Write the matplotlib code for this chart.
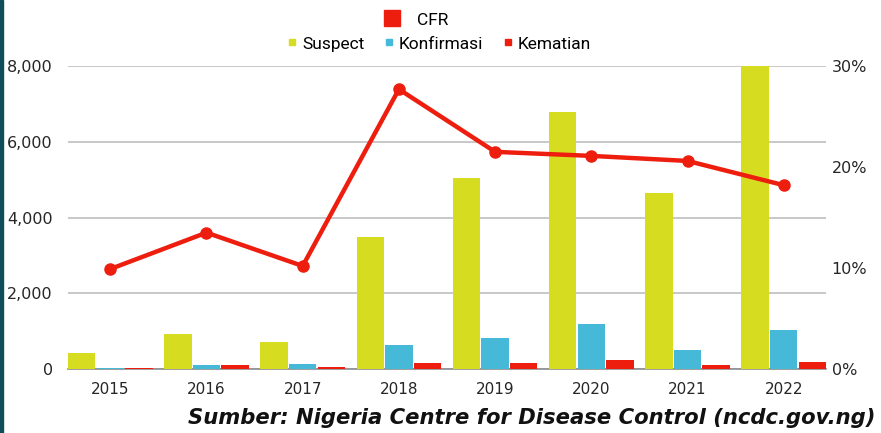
import numpy as np
import matplotlib.pyplot as plt
from matplotlib.lines import Line2D
from matplotlib.patches import Rectangle
from matplotlib.ticker import FuncFormatter

years = ["2015", "2016", "2017", "2018", "2019", "2020", "2021", "2022"]
suspect = [420, 925, 710, 3480, 5050, 6780, 4650, 7990]
konfirmasi = [20, 100, 130, 630, 830, 1190, 500, 1030]
kematian = [30, 110, 60, 165, 165, 240, 95, 185]
cfr = [9.9, 13.5, 10.2, 27.7, 21.5, 21.1, 20.6, 18.2]

c_sus = "#D6DD21"
c_konf = "#45B9D7"
c_mati = "#EE1E0F"
grid_c = "#BFBFBF"
txt_c = "#262626"

plt.rcParams['font.family'] = ['DejaVu Sans']

fig = plt.figure(figsize=(8.81, 4.33), dpi=100)
ax = fig.add_axes([68/881, 64/433, 758/881, 303/433])

x = np.arange(len(years))
w = 0.285
off = 0.297
ax.bar(x - off, suspect, w, color=c_sus, zorder=3)
ax.bar(x, konfirmasi, w, color=c_konf, zorder=3)
ax.bar(x + off, kematian, w, color=c_mati, zorder=3)

ax.set_xlim(-off - w/2, len(years) - 1 + off + w/2)
ax.set_ylim(0, 8000)
ax.set_yticks([0, 2000, 4000, 6000, 8000])
ax.yaxis.set_major_formatter(FuncFormatter(lambda v, p: f"{int(v):,}"))
ax.grid(axis="y", color=grid_c, lw=1.2, zorder=0)
ax.set_xticks(x)
ax.set_xticklabels(years)
for s in ["top", "right", "left"]:
    ax.spines[s].set_visible(False)
ax.spines["bottom"].set_color("#8C8C8C")
ax.spines["bottom"].set_linewidth(1.2)
ax.tick_params(axis="y", length=0, pad=11, labelsize=11.5, labelcolor=txt_c)
ax.tick_params(axis="x", length=0, pad=9, labelsize=11, labelcolor=txt_c)

ax2 = ax.twinx()
ax2.plot(x, cfr, color=c_mati, lw=3.2, marker="o", markersize=8, zorder=5)
ax2.set_ylim(0, 30)
ax2.set_yticks([0, 10, 20, 30])
ax2.yaxis.set_major_formatter(FuncFormatter(lambda v, p: f"{int(v)}%"))
for s in ["top", "right", "left", "bottom"]:
    ax2.spines[s].set_visible(False)
ax2.tick_params(axis="y", length=0, pad=4, labelsize=11.5, labelcolor=txt_c)

# legends
h_cfr = [Line2D([], [], ls="none", marker="s", markersize=12, color=c_mati)]
fig.legend(h_cfr, ["CFR"], loc="center", bbox_to_anchor=(415/881, 1 - 20/433),
           frameon=False, prop={"family": "Roboto", "size": 12.5},
           handletextpad=0.8, handlelength=1.2)
h_row = [Line2D([], [], ls="none", marker="s", markersize=5, color=c)
         for c in [c_sus, c_konf, c_mati]]
fig.legend(h_row, ["Suspect", "Konfirmasi", "Kematian"], loc="center", ncol=3,
           bbox_to_anchor=(438/881, 1 - 44/433), frameon=False,
           prop={"family": "Roboto", "size": 12.5},
           handletextpad=0.2, handlelength=0.8, columnspacing=1.0)

fig.text(188/881, 9/433, "Sumber: Nigeria Centre for Disease Control (ncdc.gov.ng)",
         fontsize=15.2, fontweight="bold", style="italic", color="#111111")

fig.patches.append(Rectangle((0, 0), 3/881, 1, transform=fig.transFigure,
                             color="#0E4D5A", zorder=10))

fig.savefig("out.png", dpi=100)
